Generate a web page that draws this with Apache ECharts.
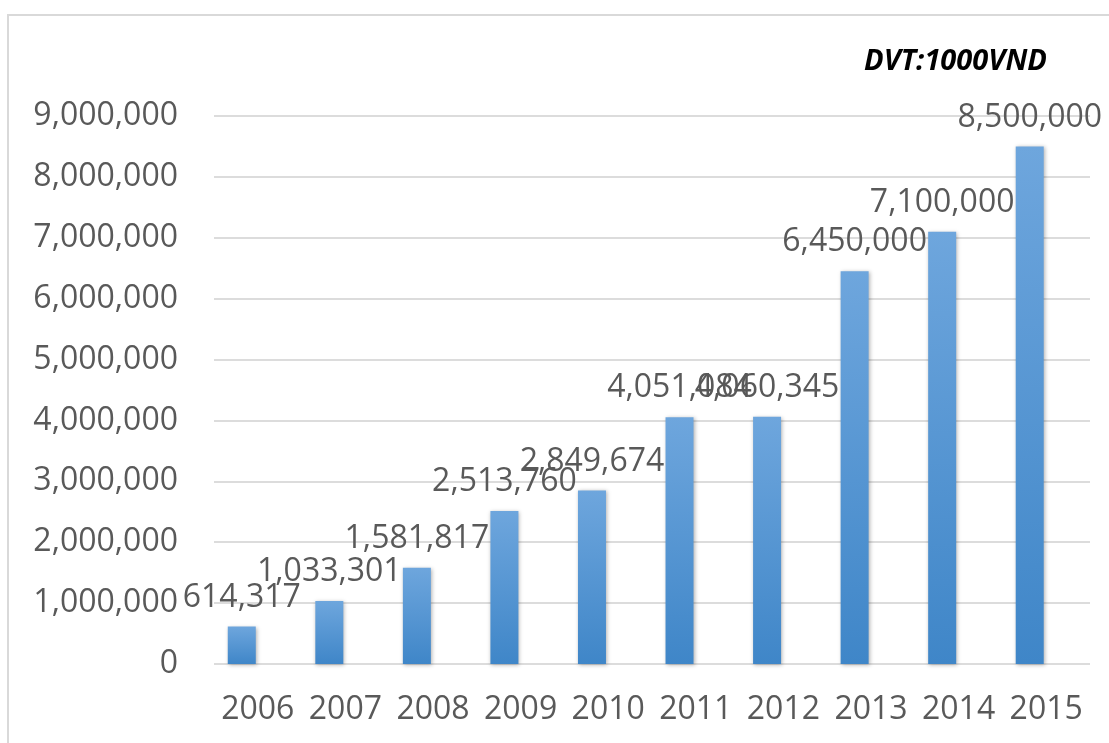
<!DOCTYPE html>
<html>
<head>
<meta charset="utf-8">
<script src="https://cdn.jsdelivr.net/npm/echarts@6/dist/echarts.min.js"></script>
<style>html,body{margin:0;padding:0;background:#fff}#c{width:1109px;height:743px}</style>
</head>
<body>
<div id="c"></div>
<script>
var years = ['2006','2007','2008','2009','2010','2011','2012','2013','2014','2015'];
var revenue = [614317, 1033301, 1581817, 2513760, 2849674, 4051084, 4060345, 6450000, 7100000, 8500000];
var unitLabel = 'DVT:1000VND';
var yMin = 0, yMax = 9000000, yStep = 1000000;

function fmt(v){ return Number(v).toLocaleString('en-US'); }

var chart = echarts.init(document.getElementById('c'));
var FONT = 'Open Sans';
var FS = 32;
chart.setOption({
  animation: false,
  backgroundColor: '#fff',
  graphic: [
    { type: 'rect', shape: { x: 8, y: 15, width: 1300, height: 900 }, style: { fill: 'none', stroke: '#d9d9d9', lineWidth: 2 }, z: -10 },
    { type: 'text', left: 864, top: 47, style: { text: unitLabel, font: 'italic bold 29px "Open Sans"', fill: '#000' } }
  ],
  grid: [
    { left: 198, right: 35.5, top: 116, bottom: 79 },
    { left: 214, right: 19, top: 116, bottom: 79 }
  ],
  xAxis: [
    { type: 'category', gridIndex: 0, data: years, show: false },
    { type: 'category', gridIndex: 1, data: years,
      axisLine: { show: false }, axisTick: { show: false },
      axisLabel: { color: '#595959', fontFamily: FONT, fontSize: FS, margin: 30, interval: 0, hideOverlap: false } }
  ],
  yAxis: [
    { type: 'value', gridIndex: 0, min: yMin, max: yMax, interval: yStep,
      splitLine: { show: false }, axisLine: { show: false }, axisTick: { show: false },
      axisLabel: { color: '#595959', fontFamily: FONT, fontSize: FS, margin: 20, formatter: fmt } },
    { type: 'value', gridIndex: 1, min: yMin, max: yMax, interval: yStep,
      axisLine: { show: false }, axisTick: { show: false }, axisLabel: { show: false },
      splitLine: { lineStyle: { color: '#dcdcdc', width: 2 } } }
  ],
  series: [{
    type: 'bar', xAxisIndex: 0, yAxisIndex: 0, data: revenue, barWidth: 28,
    itemStyle: {
      color: new echarts.graphic.LinearGradient(0, 0, 0, 1, [
        { offset: 0, color: '#6ea6dd' }, { offset: 1, color: '#3f86c8' }
      ]),
      shadowColor: 'rgba(0,0,0,0.3)', shadowBlur: 4, shadowOffsetX: 1, shadowOffsetY: 1
    },
    label: { show: true, position: 'top', distance: 13, color: '#595959', fontFamily: FONT, fontSize: FS,
      formatter: function(p){ return fmt(p.value); } }
  }]
});
</script>
</body>
</html>
